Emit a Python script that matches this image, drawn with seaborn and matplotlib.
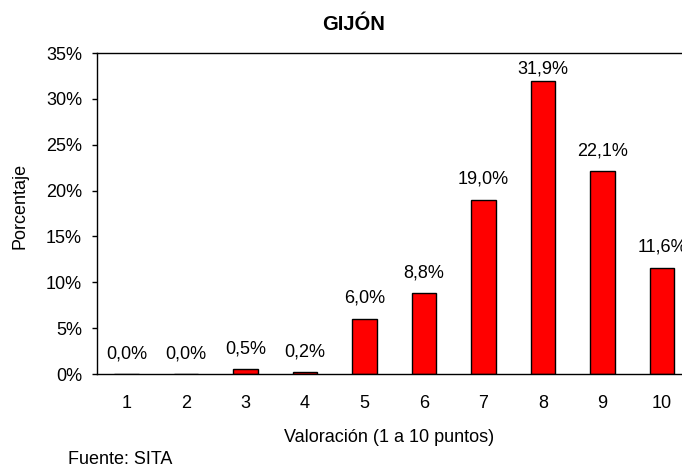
import matplotlib
matplotlib.use("Agg")
import matplotlib.pyplot as plt
import seaborn as sns
import pandas as pd
import numpy as np

# data
puntos = ["1", "2", "3", "4", "5", "6", "7", "8", "9", "10"]
porcentaje = [0.0, 0.0, 0.5, 0.2, 6.0, 8.8, 19.0, 31.9, 22.1, 11.6]
yticks = [0, 5, 10, 15, 20, 25, 30, 35]

sns.set_style("white")
plt.rcParams["font.family"] = ["Liberation Sans", "DejaVu Sans"]
plt.rcParams["text.color"] = "black"
plt.rcParams["xtick.color"] = "black"
plt.rcParams["ytick.color"] = "black"

FS = 13
YMAX = 35

df = pd.DataFrame({"puntos": puntos, "pct": porcentaje})

fig = plt.figure(figsize=(6.82, 4.66), dpi=100)
ax = fig.add_axes([0.1419, 0.1974, 0.8724, 0.6888])

sns.barplot(data=df, x="puntos", y="pct", color="#ff0000", width=0.41,
            edgecolor="black", linewidth=1.0, saturation=1, ax=ax)

# pixels per percent, used to keep labels inside the plot area like Excel
px_per_pct = 0.6888 * 466 / YMAX
for i, v in enumerate(porcentaje):
    gap = min(16, (YMAX - v) * px_per_pct - 20)
    ax.annotate(f"{v:.1f}%".replace(".", ","), (i, v),
                xytext=(0, gap * 0.72), textcoords="offset points",
                ha="center", va="baseline", fontsize=FS, color="black")

ax.set_xlim(-0.5, 9.5)
ax.set_ylim(0, YMAX)
ax.set_yticks(yticks)
ax.set_yticklabels([f"{t}%" for t in yticks], fontsize=FS)
ax.set_xticks(range(len(puntos)))
ax.set_xticklabels(puntos, fontsize=FS)
ax.set_xticks(np.arange(-0.5, 10, 1), minor=True)
ax.tick_params(axis="x", which="major", length=0, pad=15)
ax.tick_params(axis="x", which="minor", length=4.3, width=1, direction="out")
ax.tick_params(axis="y", which="major", length=3.6, width=1, direction="out",
               left=True, pad=7)

for s in ["left", "bottom", "top"]:
    ax.spines[s].set_visible(True)
    ax.spines[s].set_color("black")
    ax.spines[s].set_linewidth(1.0)
ax.spines["right"].set_visible(False)

ax.set_xlabel("")
ax.set_ylabel("")
fig.text(354 / 682, 1 - 24 / 466, "GIJÓN", ha="center", va="center",
         fontsize=14.5, fontweight="bold")
fig.text(284 / 682, 1 - 437 / 466, "Valoración (1 a 10 puntos)", ha="left",
         va="center", fontsize=FS)
fig.text(20 / 682, 1 - 206 / 466, "Porcentaje", ha="center", va="center",
         rotation=90, fontsize=FS)
fig.text(68 / 682, 1 - 459 / 466, "Fuente: SITA", ha="left", va="center",
         fontsize=FS)

fig.savefig("out.png", dpi=100)
